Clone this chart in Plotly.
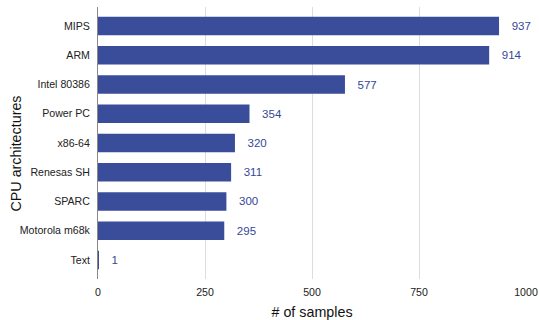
import plotly.graph_objects as go

categories = ["MIPS", "ARM", "Intel 80386", "Power PC", "x86-64", "Renesas SH", "SPARC", "Motorola m68k", "Text"]
samples = [937, 914, 577, 354, 320, 311, 300, 295, 1]
x_ticks = [0, 250, 500, 750, 1000]

bar_color = "#3a4d9b"
FONT = "Liberation Sans"

fig = go.Figure(go.Bar(
    x=samples,
    y=categories,
    orientation="h",
    marker=dict(color=bar_color, line=dict(width=0)),
    text=samples,
    texttemplate="   %{x}",
    textposition="outside",
    textfont=dict(color="#34489a", size=11.5, family=FONT),
    cliponaxis=False,
    width=0.64,
))

plot_w = 539 - 98 - 13
plot_h = 320 - 7 - 41

fig.update_layout(
    width=539, height=320,
    margin=dict(l=98, r=13, t=7, b=41),
    plot_bgcolor="white", paper_bgcolor="white",
    font=dict(family=FONT, color="#222222", size=10.6),
    showlegend=False,
    annotations=[dict(
        text="CPU architectures",
        textangle=-90,
        xref="paper", yref="paper",
        x=-(98 - 15.5) / plot_w, y=(279 - 154) / plot_h,
        xanchor="center", yanchor="middle",
        showarrow=False,
        font=dict(size=14.3, color="#111111", family=FONT),
    )],
)
fig.update_xaxes(
    range=[0, 1000],
    tickvals=x_ticks,
    ticktext=[str(v) for v in x_ticks],
    showgrid=True, gridcolor="#dddddd", gridwidth=1,
    zeroline=False,
    showline=False,
    ticks="",
    automargin=False,
    ticklabelstandoff=5,
    tickfont=dict(size=10.6, color="#222222", family=FONT),
    title=dict(text="# of samples", font=dict(size=14.3, color="#111111", family=FONT), standoff=20),
)
fig.update_yaxes(
    categoryorder="array",
    categoryarray=categories[::-1],
    range=[-0.65, 8.65],
    showgrid=False,
    showline=True, linecolor="#888888", linewidth=1,
    ticks="",
    ticklabelstandoff=5,
    automargin=False,
    tickfont=dict(size=10.6, color="#222222", family=FONT),
)

fig.write_html("out.html")
